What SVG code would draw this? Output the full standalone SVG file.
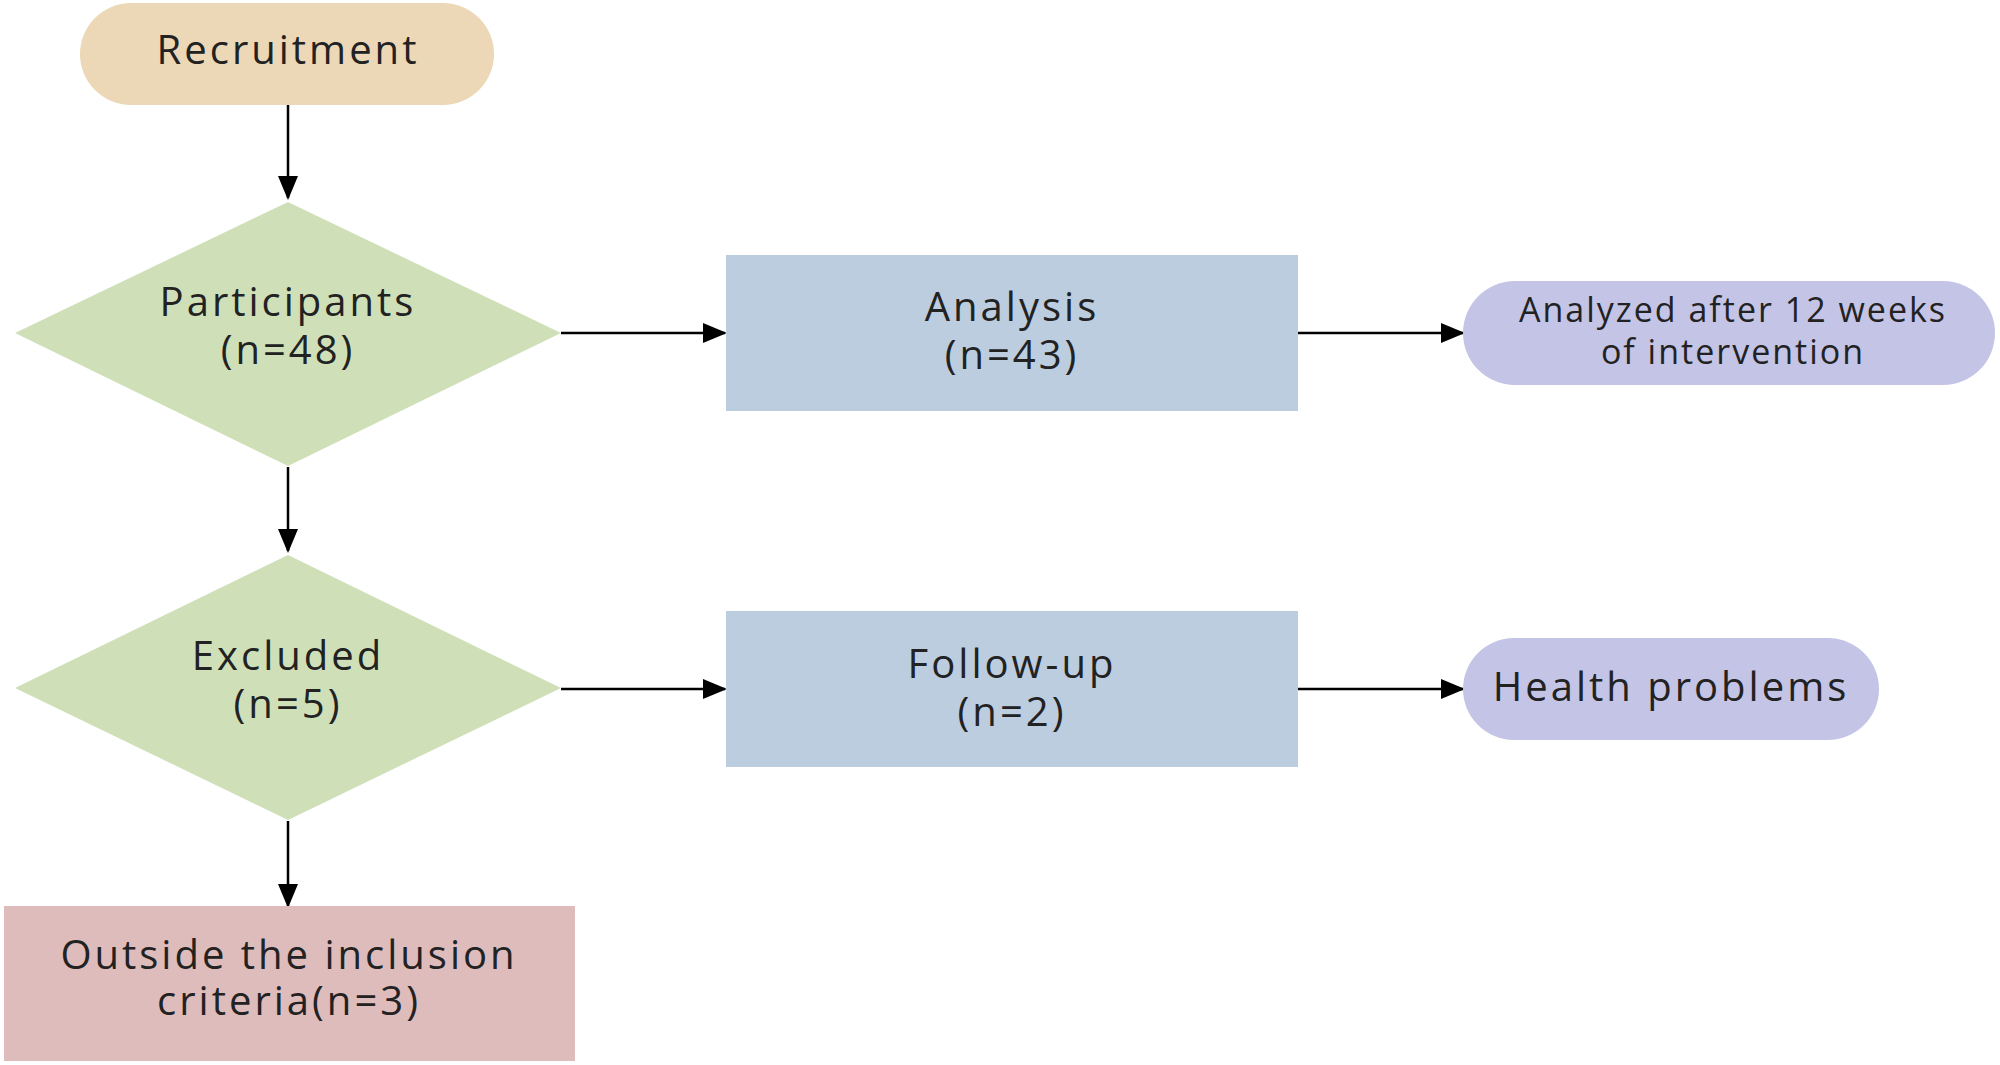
<svg xmlns="http://www.w3.org/2000/svg" width="2000" height="1065" viewBox="0 0 2000 1065">
<defs>
<marker id="a2" markerWidth="24" markerHeight="20" refX="22" refY="10" orient="auto" markerUnits="userSpaceOnUse" viewBox="0 0 24 20"><path d="M0,0 L24,10 L0,20 z" fill="#000"/></marker>
<style>
text{font-family:"Open Sans","Liberation Sans",sans-serif;fill:#222;text-anchor:middle}
.t{font-size:40px;letter-spacing:3px}.s{font-size:34px;letter-spacing:2px}
</style>
</defs>
<rect width="2000" height="1065" fill="#fff"/>
<g id="connectors" stroke="#000" stroke-width="2.5" fill="none">
<line x1="288" y1="105" x2="288" y2="198" marker-end="url(#a2)"/>
<line x1="561" y1="333" x2="725" y2="333" marker-end="url(#a2)"/>
<line x1="1298" y1="333" x2="1463" y2="333" marker-end="url(#a2)"/>
<line x1="288" y1="467" x2="288" y2="551" marker-end="url(#a2)"/>
<line x1="561" y1="689" x2="725" y2="689" marker-end="url(#a2)"/>
<line x1="1298" y1="689" x2="1463" y2="689" marker-end="url(#a2)"/>
<line x1="288" y1="821" x2="288" y2="906" marker-end="url(#a2)"/>
</g>
<g id="recruitment"><rect x="80" y="3" width="414" height="102" rx="51" fill="#ecd7b6"/><text class="t" x="288" y="64">Recruitment</text></g>
<g id="participants"><polygon points="288,202 561,333 288,466 15,333" fill="#cfe0b9"/><text class="t" x="288" y="316">Participants</text><text class="t" x="288" y="364">(n=48)</text></g>
<g id="analysis"><rect x="726" y="255" width="572" height="156" fill="#bccddf"/><text class="t" x="1012" y="321">Analysis</text><text class="t" x="1012" y="369">(n=43)</text></g>
<g id="analyzed"><rect x="1463" y="281" width="532" height="104" rx="52" fill="#c4c4e6"/><text class="s" x="1733" y="322">Analyzed after 12 weeks</text><text class="s" x="1733" y="364">of intervention</text></g>
<g id="excluded"><polygon points="288,555 561,688 288,820 15,688" fill="#cfe0b9"/><text class="t" x="288" y="670">Excluded</text><text class="t" x="288" y="718">(n=5)</text></g>
<g id="followup"><rect x="726" y="611" width="572" height="156" fill="#bccddf"/><text class="t" x="1012" y="678">Follow-up</text><text class="t" x="1012" y="726">(n=2)</text></g>
<g id="health"><rect x="1463" y="638" width="416" height="102" rx="51" fill="#c4c4e6"/><text class="t" x="1671" y="701">Health problems</text></g>
<g id="outside"><rect x="4" y="906" width="571" height="155" fill="#dfbcbc"/><text class="t" x="289" y="969">Outside the inclusion</text><text class="t" x="289" y="1015">criteria(n=3)</text></g>
</svg>
